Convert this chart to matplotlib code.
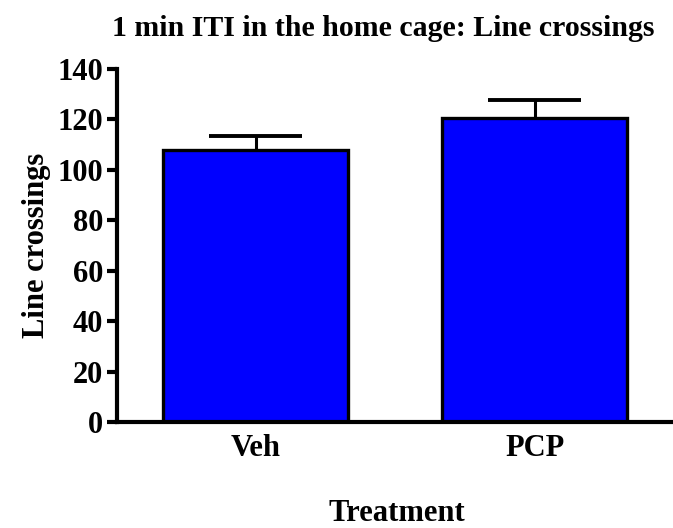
import matplotlib
matplotlib.use('Agg')
import matplotlib.pyplot as plt
from matplotlib.ticker import MultipleLocator

grupos = ['Veh', 'PCP']
medias = [108, 120.5]
erros = [5.5, 7.3]

plt.rcParams['font.family'] = ['Liberation Serif', 'DejaVu Serif']
plt.rcParams['font.weight'] = 'bold'

fig = plt.figure(figsize = (6.73, 5.28), dpi = 100)
ax = fig.add_axes([0.174, 0.2008, 0.826, 0.6686])

x = list(range(len(grupos)))
ax.bar(x, medias, width = 0.663, color = '#0000ff', edgecolor = 'black', linewidth = 2.4, zorder = 2)

# barra de erro so para cima
topo = [m + e for m, e in zip(medias, erros)]
ax.vlines(x, medias, topo, colors = 'black', linewidth = 2.2, zorder = 1)
ax.hlines(topo, [i - 0.167 for i in x], [i + 0.167 for i in x], colors = 'black', linewidth = 2.8, zorder = 1)

ax.set_xlim(-0.496, 1.496)
ax.set_ylim(0, 140)
ax.yaxis.set_major_locator(MultipleLocator(20))
ax.yaxis.set_minor_locator(MultipleLocator(1.4))
ax.xaxis.set_minor_locator(MultipleLocator(0.0115))
ax.set_xticks(x)
ax.set_xticklabels(grupos)

for lado in ['top', 'right']:
    ax.spines[lado].set_visible(False)
for lado in ['left', 'bottom']:
    ax.spines[lado].set_linewidth(3)

ax.tick_params(axis = 'y', which = 'major', length = 7, width = 3, labelsize = 22, pad = 3)
ax.tick_params(axis = 'x', which = 'major', length = 0, labelsize = 22, pad = 9)
ax.tick_params(which = 'minor', length = 2, width = 0.5, color = '#8a8a8a', direction = 'inout')

ax.set_title('1 min ITI in the home cage: Line crossings', fontsize = 21.5, fontweight = 'bold',
             pad = 24, x = 0.478)
ax.set_ylabel('Line crossings', fontsize = 22, fontweight = 'bold', labelpad = 5)
fig.text(0.589, 1 - 521 / 528, 'Treatment', fontsize = 22, fontweight = 'bold', ha = 'center', va = 'baseline')

fig.savefig('out.png', dpi = 100)
